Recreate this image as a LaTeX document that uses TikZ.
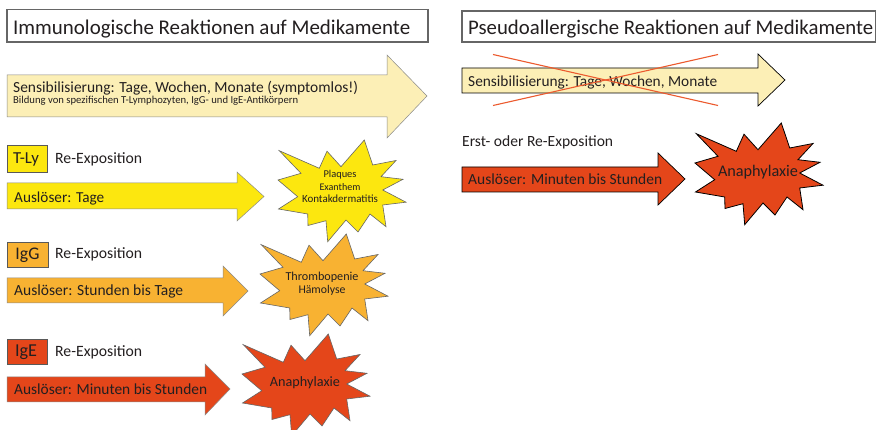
\documentclass[tikz,border=0pt]{standalone}
\usepackage{fontspec}
\setmainfont{Carlito}
\usepackage{graphicx}
\definecolor{pale}{HTML}{FCEFB6}
\definecolor{tyel}{HTML}{FCE70F}
\definecolor{tora}{HTML}{F8B232}
\definecolor{tred}{HTML}{E4461A}
\definecolor{xred}{HTML}{EC5A2E}
\definecolor{txt}{HTML}{231F20}
\definecolor{softline}{HTML}{8A8A8A}
\newcommand\fw[2]{\resizebox{#1pt}{!}{#2}}
\newcommand\starpath{(-62.7,-39.3) -- (-22.7,-21.7) -- (-15,-38.8) -- (-1,-23.3) -- (22.3,-50) -- (30.7,-25) -- (54,-29.5) -- (39,-13.3) -- (61,-10.7) -- (40.7,0) -- (64,12.2) -- (40.7,15) -- (44,36.7) -- (28,24) -- (16,42) -- (4,30) -- (-14.3,51.7) -- (-16,30.7) -- (-34,35.5) -- (-34.3,24) -- (-63.5,19) -- (-44.3,6.7) -- (-64,-10) -- (-41,-16.7) -- cycle}
\tikzset{
  x=1pt, y=-1pt,
  every node/.style={inner sep=0pt, text=txt},
  lbl/.style={anchor=base west},
  ctr/.style={anchor=base},
  titlebox/.style={draw=black!60, line width=1.1pt},
  tagbox/.style={draw=black!65, line width=0.8pt},
  leftarrow/.style={draw=softline, line width=0.5pt},
  rightarrow/.style={draw=black, line width=0.7pt},
  leftstar/.style={draw=black!60, line width=0.6pt},
  rightstar/.style={draw=black, line width=0.8pt},
  cross/.style={draw=xred, line width=1.1pt},
}
\begin{document}
\begin{tikzpicture}
\useasboundingbox[fill=white] (0,0) rectangle (876,430);
% ---------- left column ----------
\draw[titlebox] (7,9.5) rectangle (428,42);
\node[lbl] (tl) at (13,35) {\fw{397}{\fontsize{18}{20}\selectfont Immunologische Reaktionen auf Medikamente}};

\draw[leftarrow, fill=pale] (7,75) -- (387,75) -- (387,55) -- (427,96) -- (387,138) -- (387,117) -- (7,117) -- cycle;
\node[lbl] (s1) at (13,93) {\fw{345}{\fontsize{15}{17}\selectfont Sensibilisierung: Tage, Wochen, Monate (symptomlos!)}};
\node[lbl] (s2) at (13,104) {\fw{285}{\fontsize{9}{10}\selectfont Bildung von spezifischen T-Lymphozyten, IgG- und IgE-Antikörpern}};

% T-Ly
\draw[tagbox, fill=tyel] (7,145) rectangle (47,172);
\node[ctr] (tly) at (26,164) {\fw{26}{\fontsize{14}{16}\selectfont T-Ly}};
\node[lbl] (re1) at (55,164) {\fw{87}{\fontsize{14}{16}\selectfont Re-Exposition}};
\draw[leftarrow, fill=tyel] (7,183) -- (237,183) -- (237,172) -- (264,196.5) -- (237,221) -- (237,209) -- (7,209) -- cycle;
\node[lbl] (a1) at (14,203) {\fw{90}{\fontsize{14}{16}\selectfont Auslöser: Tage}};
\draw[leftstar, fill=tyel, shift={(342,190)}] \starpath;
\node[ctr] (p1) at (340,178) {\fw{33}{\fontsize{9.5}{11}\selectfont Plaques}};
\node[ctr] (p2) at (340,191) {\fw{41}{\fontsize{9.5}{11}\selectfont Exanthem}};
\node[ctr] (p3) at (340,203) {\fw{76}{\fontsize{9.5}{11}\selectfont Kontakdermatitis}};

% IgG
\draw[tagbox, fill=tora] (7,242) rectangle (48,267);
\node[ctr] (igg) at (27.5,260) {\fw{24}{\fontsize{14}{16}\selectfont IgG}};
\node[lbl] (re2) at (55,259) {\fw{87}{\fontsize{14}{16}\selectfont Re-Exposition}};
\draw[leftarrow, fill=tora] (7,278) -- (223,278) -- (223,266) -- (248,291) -- (223,316) -- (223,303) -- (7,303) -- cycle;
\node[lbl] (a2) at (14,296) {\fw{169}{\fontsize{14}{16}\selectfont Auslöser: Stunden bis Tage}};
\draw[leftstar, fill=tora, shift={(324,284)}] \starpath;
\node[ctr] (h1) at (322,281) {\fw{73}{\fontsize{10.5}{12}\selectfont Thrombopenie}};
\node[ctr] (h2) at (322,294) {\fw{47}{\fontsize{10.5}{12}\selectfont Hämolyse}};

% IgE
\draw[tagbox, fill=tred] (7,339) rectangle (47,364);
\node[ctr] (ige) at (26,357) {\fw{22}{\fontsize{14}{16}\selectfont IgE}};
\node[lbl] (re3) at (55,357) {\fw{87}{\fontsize{14}{16}\selectfont Re-Exposition}};
\draw[leftarrow, fill=tred] (7,377) -- (205,377) -- (205,364) -- (230,389) -- (205,415) -- (205,402) -- (7,402) -- cycle;
\node[lbl] (a3) at (14,395) {\fw{193}{\fontsize{14}{16}\selectfont Auslöser: Minuten bis Stunden}};
\draw[leftstar, fill=tred, shift={(306,384)}] \starpath;
\node[ctr] (an1) at (305,387) {\fw{70}{\fontsize{11}{13}\selectfont Anaphylaxie}};

% ---------- right column ----------
\draw[titlebox] (462,11) rectangle (876,42);
\node[lbl] (tr) at (468,35) {\fw{405}{\fontsize{18}{20}\selectfont Pseudoallergische Reaktionen auf Medikamente}};

\draw[rightarrow, fill=pale] (462,68) -- (758,68) -- (758,54) -- (785,80) -- (758,106) -- (758,93) -- (462,93) -- cycle;
\node[lbl] (s3) at (468,86.5) {\fw{249}{\fontsize{13}{15}\selectfont Sensibilisierung: Tage, Wochen, Monate}};
\coordinate (x1) at (493,54.5);
\coordinate (x2) at (718,105.5);
\coordinate (x3) at (493,105.5);
\coordinate (x4) at (718,54.5);
\draw[cross] (x1) -- (x2);
\draw[cross] (x3) -- (x4);

\node[lbl] (er) at (462,147) {\fw{151}{\fontsize{13}{15}\selectfont Erst- oder Re-Exposition}};
\draw[rightarrow, fill=tred] (462,167) -- (658,167) -- (658,153) -- (685,179) -- (658,205) -- (658,192) -- (462,192) -- cycle;
\node[lbl] (a4) at (468,185) {\fw{194}{\fontsize{13}{15}\selectfont Auslöser: Minuten bis Stunden}};
\draw[rightstar, fill=tred, shift={(759,173)}] \starpath;
\node[ctr] (an2) at (758,177) {\fw{80}{\fontsize{13}{15}\selectfont Anaphylaxie}};
\end{tikzpicture}
\end{document}
